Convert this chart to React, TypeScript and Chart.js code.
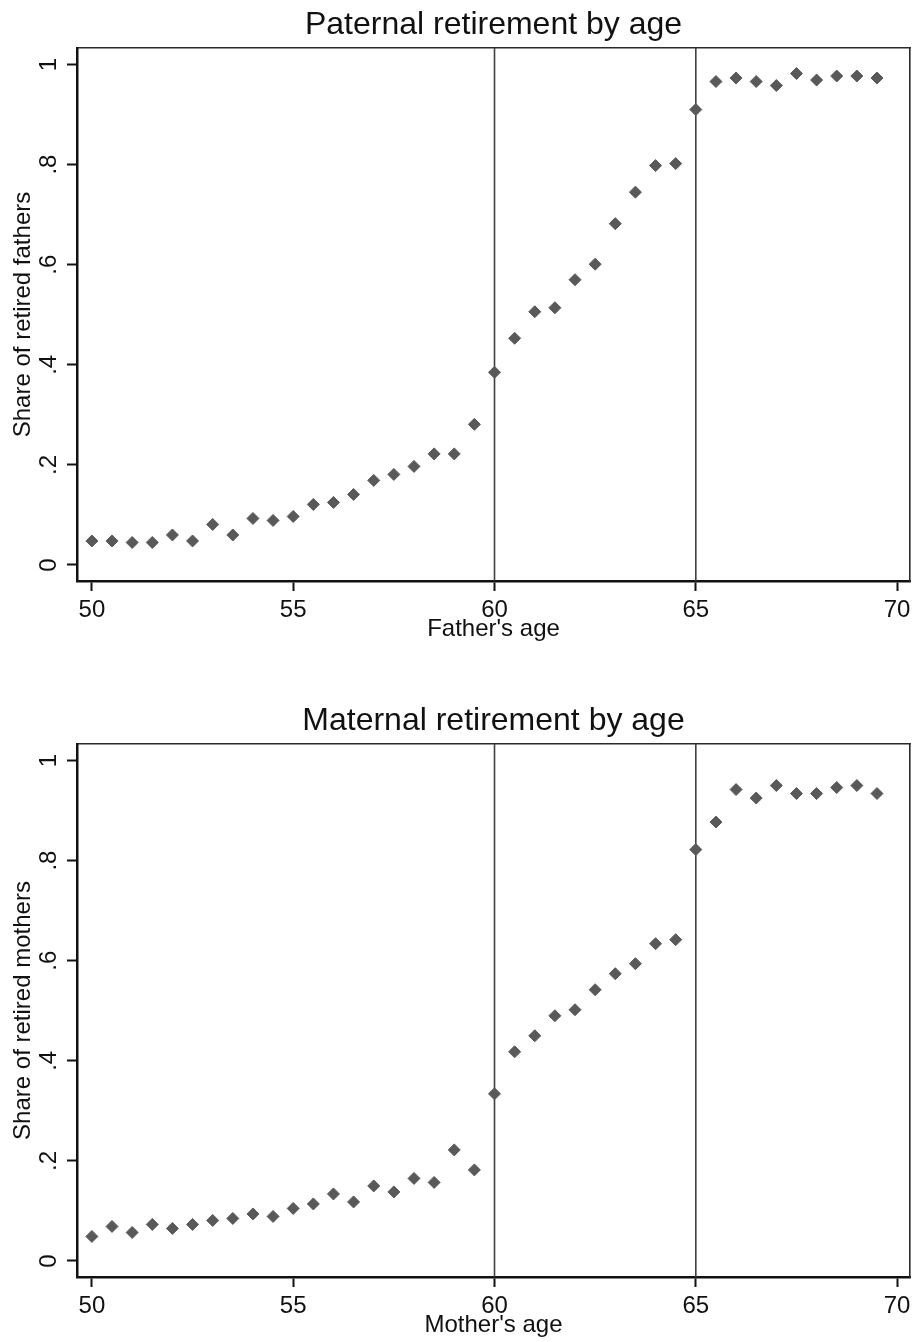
import React, { useEffect, useRef } from "react";
import { Chart, registerables } from "chart.js";

Chart.register(...registerables);

const ages = [
  50, 50.5, 51, 51.5, 52, 52.5, 53, 53.5, 54, 54.5,
  55, 55.5, 56, 56.5, 57, 57.5, 58, 58.5, 59, 59.5,
  60, 60.5, 61, 61.5, 62, 62.5, 63, 63.5, 64, 64.5,
  65, 65.5, 66, 66.5, 67, 67.5, 68, 68.5, 69, 69.5,
];

const fatherShare = [
  0.048, 0.048, 0.045, 0.045, 0.060, 0.048, 0.081, 0.060, 0.093, 0.089,
  0.097, 0.121, 0.125, 0.141, 0.169, 0.181, 0.197, 0.222, 0.222, 0.281,
  0.385, 0.453, 0.506, 0.514, 0.570, 0.601, 0.682, 0.745, 0.798, 0.802,
  0.910, 0.966, 0.973, 0.966, 0.958, 0.982, 0.969, 0.977, 0.977, 0.973,
];

const motherShare = [
  0.049, 0.069, 0.057, 0.073, 0.065, 0.073, 0.081, 0.085, 0.094, 0.089,
  0.105, 0.114, 0.134, 0.118, 0.150, 0.138, 0.165, 0.157, 0.222, 0.182,
  0.334, 0.418, 0.450, 0.490, 0.502, 0.542, 0.574, 0.594, 0.634, 0.642,
  0.822, 0.877, 0.942, 0.925, 0.950, 0.934, 0.934, 0.946, 0.950, 0.934,
];

const xTickValues = [50, 55, 60, 65, 70];
const yTickValues = [0, 0.2, 0.4, 0.6, 0.8, 1];
const yTickLabels = ["0", ".2", ".4", ".6", ".8", "1"];
const refLines = [60, 65];

const X_MIN = 49.63;
const X_MAX = 70.32;
const Y_MIN = -0.032;
const Y_MAX = 1.033;

const FONT = "'Liberation Sans', Arial, sans-serif";
const TEXT = "#111111";
const MARKER = "#595959";

const CANVAS_W = 917;
const CANVAS_H = 660;

const refLinePlugin = {
  id: "refLines",
  beforeDatasetsDraw(chart: any) {
    const { ctx, chartArea, scales } = chart;
    ctx.save();
    ctx.strokeStyle = "#404040";
    ctx.lineWidth = 1.6;
    refLines.forEach((v) => {
      const px = scales.x.getPixelForValue(v);
      ctx.beginPath();
      ctx.moveTo(px, chartArea.top);
      ctx.lineTo(px, chartArea.bottom);
      ctx.stroke();
    });
    ctx.restore();
  },
};

function Panel(props: { title: string; xLabel: string; yLabel: string; values: number[]; top: number }) {
  const ref = useRef<HTMLCanvasElement | null>(null);
  useEffect(() => {
    if (!ref.current) return;
    const points = ages.map((a, i) => ({ x: a, y: props.values[i] }));
    const chart = new Chart(ref.current, {
      type: "scatter",
      data: {
        datasets: [
          {
            data: points,
            pointStyle: "rectRot",
            pointRadius: 6,
            pointBorderWidth: 1,
            backgroundColor: MARKER,
            borderColor: MARKER,
          },
        ],
      },
      options: {
        responsive: false,
        animation: false,
        devicePixelRatio: 1,
        layout: { padding: 0 },
        plugins: {
          legend: { display: false },
          tooltip: { enabled: false },
          title: { display: false },
        },
        scales: {
          x: {
            type: "linear",
            position: "bottom",
            min: X_MIN,
            max: X_MAX,
            afterBuildTicks: (s: any) => {
              s.ticks = xTickValues.map((v) => ({ value: v }));
            },
            afterFit: (s: any) => {
              s.height = 79;
            },
            ticks: {
              color: TEXT,
              font: { family: FONT, size: 24 },
              padding: 4.6,
              maxRotation: 0,
              minRotation: 0,
              callback: (v: any) => String(v),
            },
            grid: {
              drawOnChartArea: false,
              drawTicks: true,
              tickLength: 10,
              tickWidth: 2,
              tickColor: TEXT,
            },
            border: { display: true, color: TEXT, width: 2.5 },
            title: {
              display: true,
              text: props.xLabel,
              color: TEXT,
              font: { family: FONT, size: 24 },
              padding: { top: 0, bottom: 16.7 },
            },
          },
          xTop: {
            type: "linear",
            position: "top",
            min: X_MIN,
            max: X_MAX,
            afterFit: (s: any) => {
              s.height = 48;
            },
            ticks: { display: false },
            grid: { drawOnChartArea: false, drawTicks: false },
            border: { display: true, color: "#2a2a2a", width: 1.6 },
            title: {
              display: true,
              text: props.title,
              color: TEXT,
              font: { family: FONT, size: 32 },
              padding: { top: 5.5, bottom: 0 },
            },
          },
          y: {
            type: "linear",
            position: "left",
            min: Y_MIN,
            max: Y_MAX,
            afterBuildTicks: (s: any) => {
              s.ticks = yTickValues.map((v) => ({ value: v }));
            },
            afterFit: (s: any) => {
              s.width = 77;
            },
            ticks: {
              color: TEXT,
              font: { family: FONT, size: 24 },
              padding: 7.5,
              minRotation: 90,
              maxRotation: 90,
              crossAlign: "center",
              callback: (_v: any, i: number) => yTickLabels[i],
            },
            grid: {
              drawOnChartArea: false,
              drawTicks: true,
              tickLength: 10,
              tickWidth: 2,
              tickColor: TEXT,
            },
            border: { display: true, color: TEXT, width: 2.5 },
            title: {
              display: true,
              text: props.yLabel,
              color: TEXT,
              font: { family: FONT, size: 24 },
              padding: { top: 9.3, bottom: 0 },
            },
          },
          yRight: {
            type: "linear",
            position: "right",
            min: Y_MIN,
            max: Y_MAX,
            afterFit: (s: any) => {
              s.width = 4;
            },
            ticks: { display: false },
            grid: { drawOnChartArea: false, drawTicks: false },
            border: { display: true, color: "#2a2a2a", width: 1.6 },
          },
        },
      },
      plugins: [refLinePlugin],
    } as any);
    return () => chart.destroy();
  }, []);
  return (
    <canvas
      ref={ref}
      width={CANVAS_W}
      height={CANVAS_H}
      style={{ position: "absolute", left: 0, top: props.top, width: CANVAS_W, height: CANVAS_H }}
    />
  );
}

export default function App() {
  return (
    <div
      style={{
        position: "absolute",
        left: 0,
        top: 0,
        width: CANVAS_W,
        height: 1342,
        overflow: "hidden",
        background: "#ffffff",
      }}
    >
      <Panel
        title="Paternal retirement by age"
        xLabel="Father's age"
        yLabel="Share of retired fathers"
        values={fatherShare}
        top={0}
      />
      <Panel
        title="Maternal retirement by age"
        xLabel="Mother's age"
        yLabel="Share of retired mothers"
        values={motherShare}
        top={696}
      />
    </div>
  );
}
